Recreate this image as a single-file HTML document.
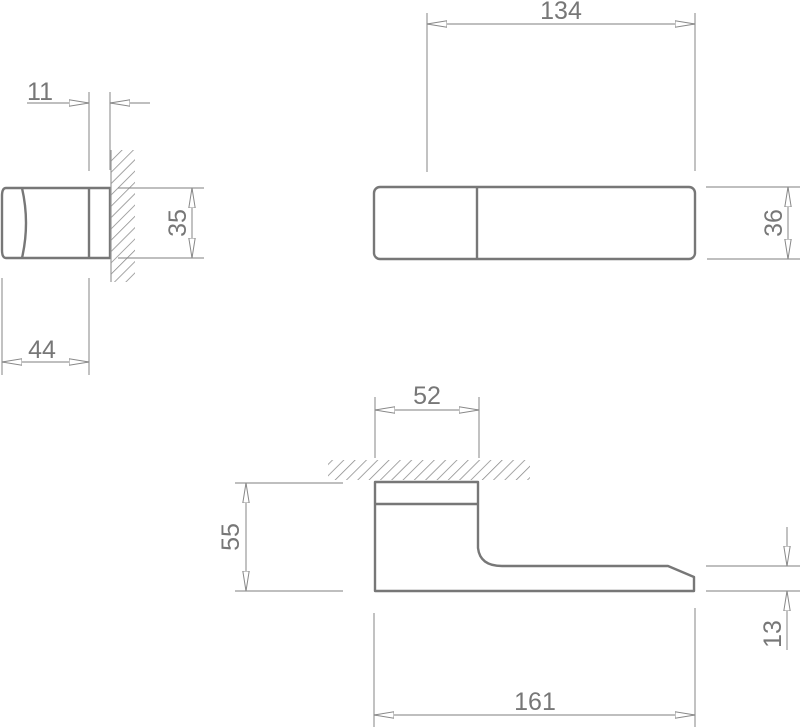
<!DOCTYPE html>
<html><head><meta charset="utf-8"><style>
html,body{margin:0;padding:0;background:#fff;}
svg{display:block;}
text{font-family:"Liberation Sans",sans-serif;font-size:25px;fill:#777;}
</style></head><body>
<svg width="801" height="728" viewBox="0 0 801 728" xmlns="http://www.w3.org/2000/svg">
<defs>
<marker id="a" markerUnits="userSpaceOnUse" markerWidth="24" markerHeight="10" refX="20" refY="5" orient="auto-start-reverse" viewBox="0 0 24 10">
<path d="M20,5 L0,1.8 L0,8.2 Z" fill="#fff" stroke="#888" stroke-width="1"/>
</marker>
<pattern id="h" patternUnits="userSpaceOnUse" width="8" height="8" patternTransform="rotate(45)">
<line x1="0" y1="0" x2="0" y2="8" stroke="#888" stroke-width="1.5"/>
</pattern>
</defs>
<g stroke="#999" stroke-width="1.2" fill="none">
<line x1="89" y1="92" x2="89" y2="171"/>
<line x1="110" y1="92" x2="110" y2="170"/>
<line x1="27" y1="103" x2="89" y2="103" marker-end="url(#a)"/>
<line x1="150" y1="103" x2="110" y2="103" marker-end="url(#a)"/>
<line x1="118" y1="188" x2="204" y2="188"/>
<line x1="118" y1="258" x2="204" y2="258"/>
<line x1="192" y1="188" x2="192" y2="258" marker-start="url(#a)" marker-end="url(#a)"/>
<line x1="2" y1="278" x2="2" y2="375"/>
<line x1="89" y1="278" x2="89" y2="375"/>
<line x1="2" y1="362" x2="89" y2="362" marker-start="url(#a)" marker-end="url(#a)"/>
<line x1="427" y1="13" x2="427" y2="172"/>
<line x1="695" y1="13" x2="695" y2="171"/>
<line x1="427" y1="24" x2="695" y2="24" marker-start="url(#a)" marker-end="url(#a)"/>
<line x1="706" y1="187" x2="800" y2="187"/>
<line x1="707" y1="259" x2="800" y2="259"/>
<line x1="788" y1="187" x2="788" y2="259" marker-start="url(#a)" marker-end="url(#a)"/>
<line x1="375" y1="397" x2="375" y2="458"/>
<line x1="479" y1="397" x2="479" y2="458"/>
<line x1="375" y1="410" x2="479" y2="410" marker-start="url(#a)" marker-end="url(#a)"/>
<line x1="235" y1="483" x2="343" y2="483"/>
<line x1="235" y1="591" x2="343" y2="591"/>
<line x1="246" y1="483" x2="246" y2="591" marker-start="url(#a)" marker-end="url(#a)"/>
<line x1="706" y1="566" x2="800" y2="566"/>
<line x1="706" y1="591" x2="800" y2="591"/>
<line x1="787" y1="527" x2="787" y2="566" marker-end="url(#a)"/>
<line x1="787" y1="650" x2="787" y2="591" marker-end="url(#a)"/>
<line x1="374" y1="613" x2="374" y2="727"/>
<line x1="695" y1="608" x2="695" y2="727"/>
<line x1="374" y1="715" x2="695" y2="715" marker-start="url(#a)" marker-end="url(#a)"/>
</g>
<rect x="111" y="150" width="24" height="132" fill="url(#h)"/>
<rect x="328" y="460" width="202" height="20" fill="url(#h)"/>
<g stroke="#777" stroke-width="2.4" fill="none" stroke-linejoin="round">
<path d="M6,188 L110,188 L110,258 L6,258 Q2,258 2,250 L2,196 Q2,188 6,188 Z"/>
<path d="M22,188 Q30,223 22,258"/>
<line x1="89" y1="188" x2="89" y2="258"/>
<line x1="111" y1="150" x2="111" y2="282" stroke="#999" stroke-width="1.2"/>
<rect x="374" y="187" width="321" height="72" rx="6"/>
<line x1="477" y1="187" x2="477" y2="259"/>
<path d="M375,482 L478,482 L478,548 Q480,566 502,566 L668,566 L694,577 L694,591 L375,591 Z"/>
<line x1="375" y1="504" x2="478" y2="504"/>
</g>
<text x="40" y="100" text-anchor="middle">11</text>
<text x="42" y="358" text-anchor="middle">44</text>
<text transform="translate(186,223) rotate(-90)" text-anchor="middle">35</text>
<text x="561" y="19" text-anchor="middle">134</text>
<text transform="translate(782,223) rotate(-90)" text-anchor="middle">36</text>
<text x="427" y="404" text-anchor="middle">52</text>
<text transform="translate(239,537) rotate(-90)" text-anchor="middle">55</text>
<text transform="translate(781,634) rotate(-90)" text-anchor="middle">13</text>
<text x="535" y="710" text-anchor="middle">161</text>
</svg>
</body></html>
